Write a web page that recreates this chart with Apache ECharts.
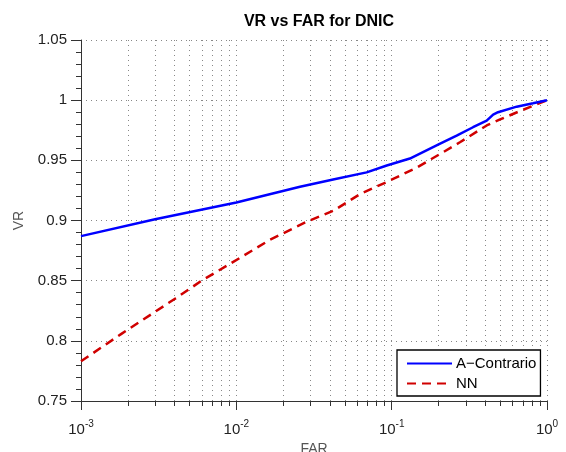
<!DOCTYPE html>
<html>
<head>
<meta charset="utf-8">
<script src="https://cdn.jsdelivr.net/npm/echarts@6/dist/echarts.min.js"></script>
<style>
  html, body { margin: 0; padding: 0; background: #fff; }
  #chart { width: 566px; height: 452px; }
</style>
</head>
<body>
<div id="chart"></div>
<script>
// A-Contrario curve
const farContrario = [0.001, 0.003, 0.01, 0.0257, 0.042, 0.069, 0.093, 0.131, 0.199, 0.262, 0.334, 0.409, 0.45, 0.484, 0.638, 0.813, 1];
const vrContrario = [0.887, 0.901, 0.915, 0.928, 0.934, 0.940, 0.9457, 0.9515, 0.963, 0.9706, 0.9775, 0.983, 0.988, 0.990, 0.9946, 0.9974, 1.0];

// NN curve
const farNN = [0.001, 0.00183, 0.00403, 0.00598, 0.0091, 0.0165, 0.0284, 0.042, 0.0627, 0.093, 0.145, 0.216, 0.275, 0.409, 0.499, 0.671, 1];
const vrNN = [0.783, 0.806, 0.835, 0.850, 0.864, 0.884, 0.899, 0.908, 0.922, 0.932, 0.944, 0.957, 0.965, 0.979, 0.984, 0.991, 1.0];

// x ticks: decades get labels, every 1..9 step gets a grid line
const decades = [0.001, 0.01, 0.1, 1];
const allTicks = [];
decades.forEach((d, i) => {
  if (i === decades.length - 1) { allTicks.push(d); return; }
  for (let k = 1; k <= 9; k += 1) allTicks.push(+(d * k).toPrecision(3));
});

const FONT = 'Liberation Sans';
const chart = echarts.init(document.getElementById('chart'));

const option = {
  animation: false,
  backgroundColor: '#fff',
  title: {
    text: 'VR vs FAR for DNIC',
    left: 314,
    textAlign: 'center',
    top: 9,
    textStyle: { fontFamily: FONT, fontSize: 16, fontWeight: 'bold', color: '#000' },
  },
  grid: { left: 81, right: 19, top: 40, bottom: 51, outerBoundsMode: 'none', containLabel: false },
  legend: {
    orient: 'vertical',
    left: 397,
    top: 350,
    padding: [6, 4, 5, 9],
    itemGap: 5,
    itemWidth: 45,
    itemHeight: 12,
    backgroundColor: '#fff',
    borderColor: '#000',
    borderWidth: 1.3,
    itemStyle: { opacity: 0 },
    textStyle: { fontFamily: FONT, fontSize: 15, color: '#000', padding: [0, 0, 0, -1] },
    data: ['A\u2212Contrario', 'NN'],
  },
  xAxis: [
    {
      type: 'log',
      logBase: 10,
      min: 0.001,
      max: 1,
      position: 'bottom',
      name: 'FAR',
      nameLocation: 'middle',
      nameGap: 38,
      nameTextStyle: { fontFamily: FONT, fontSize: 14, color: '#555' },
      axisLine: { lineStyle: { color: '#333', width: 1 } },
      axisTick: { customValues: allTicks, length: 5, inside: false, lineStyle: { color: '#333' } },
      splitLine: { show: true, lineStyle: { color: '#888', type: [1, 4], width: 1 } },
      axisLabel: {
        customValues: decades,
        margin: 18,
        formatter(v) {
          const e = Math.round(Math.log10(v));
          return `{b|10}{s|${e}}`;
        },
        rich: {
          b: { fontFamily: FONT, fontSize: 15, color: '#222' },
          s: { fontFamily: FONT, fontSize: 10, color: '#222', padding: [0, 0, 11, 0] },
        },
      },
    },
    {
      type: 'log',
      logBase: 10,
      min: 0.001,
      max: 1,
      position: 'bottom',
      axisLine: { show: false },
      axisTick: { customValues: decades, length: 9, lineStyle: { color: '#333' } },
      axisLabel: { show: false },
      splitLine: { show: false },
    },
  ],
  yAxis: {
    type: 'value',
    min: 0.75,
    max: 1.05,
    interval: 0.05,
    name: 'VR',
    nameLocation: 'middle',
    nameGap: 55,
    nameTextStyle: { fontFamily: FONT, fontSize: 14, color: '#555' },
    axisLine: { show: true, lineStyle: { color: '#333', width: 1 } },
    axisTick: { show: true, length: 10, lineStyle: { color: '#333' } },
    minorTick: { show: true, splitNumber: 5, length: 5, lineStyle: { color: '#333' } },
    splitLine: { show: true, lineStyle: { color: '#888', type: [1, 4], width: 1 } },
    axisLabel: {
      margin: 14,
      fontFamily: FONT,
      fontSize: 15,
      color: '#222',
      formatter: (v) => String(+v.toFixed(2)),
    },
  },
  series: [
    {
      name: 'A\u2212Contrario',
      type: 'line',
      showSymbol: false,
      symbol: 'none',
      data: farContrario.map((x, i) => [x, vrContrario[i]]),
      lineStyle: { color: '#0000ff', width: 2.5 },
      itemStyle: { color: '#0000ff' },
      z: 3,
    },
    {
      name: 'NN',
      type: 'line',
      showSymbol: false,
      symbol: 'none',
      data: farNN.map((x, i) => [x, vrNN[i]]),
      lineStyle: { color: '#d00000', width: 2.5, type: [9, 6] },
      itemStyle: { color: '#d00000' },
      z: 2,
    },
  ],
};

chart.setOption(option);
</script>
</body>
</html>
